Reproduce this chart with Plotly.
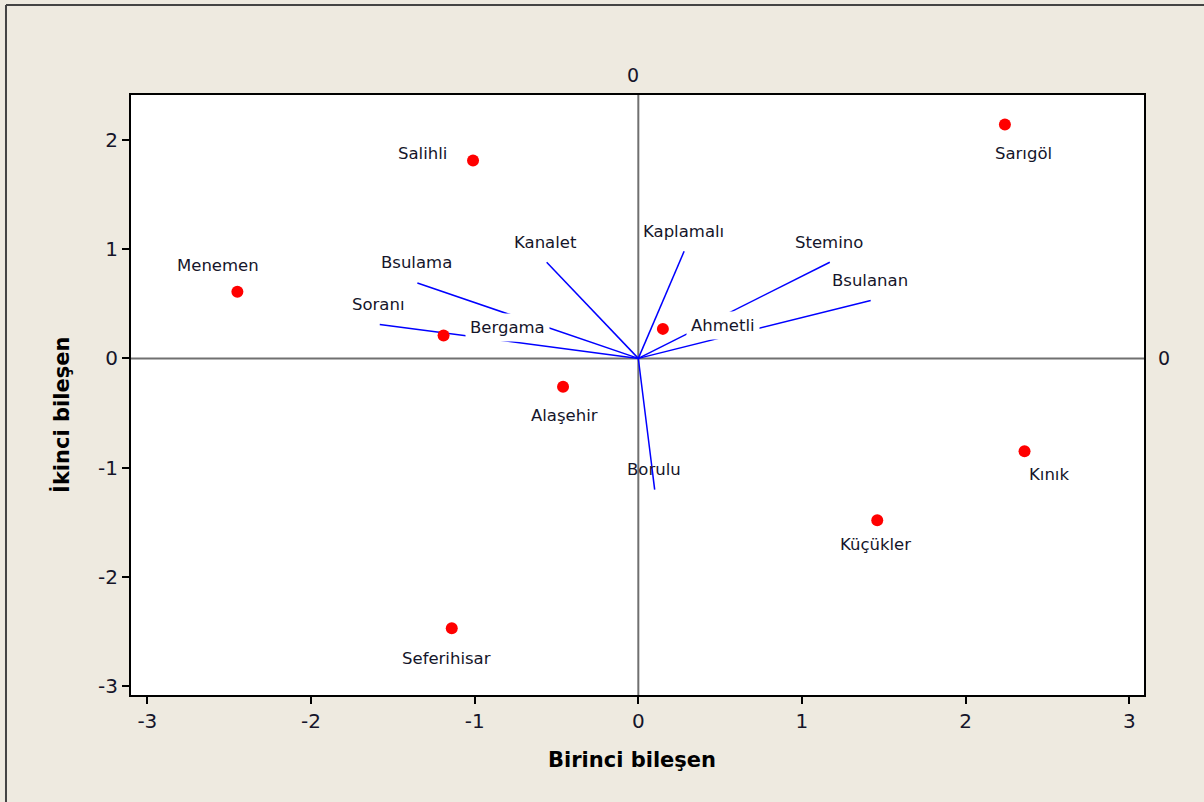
import plotly.graph_objects as go

# Observation scores (first and second principal components)
districts = ["Salihli", "Menemen", "Bergama", "Alaşehir", "Seferihisar",
             "Ahmetli", "Sarıgöl", "Kınık", "Küçükler"]
pc1_scores = [-1.01, -2.45, -1.19, -0.46, -1.14, 0.15, 2.24, 2.36, 1.46]
pc2_scores = [1.81, 0.61, 0.21, -0.26, -2.47, 0.27, 2.14, -0.85, -1.48]

# Variable loadings drawn as vectors from the origin
variables = ["Soranı", "Bsulama", "Kanalet", "Kaplamalı", "Stemino", "Bsulanan", "Borulu"]
pc1_loadings = [-1.58, -1.35, -0.56, 0.28, 1.17, 1.42, 0.10]
pc2_loadings = [0.31, 0.69, 0.88, 0.98, 0.88, 0.53, -1.20]

x_ticks = [-3, -2, -1, 0, 1, 2, 3]
y_ticks = [-3, -2, -1, 0, 1, 2]

# Label placement (pixel offsets from each point)
district_offsets = {
    "Salihli": (-51, 7), "Menemen": (-19, 26), "Bergama": (64, 8),
    "Alaşehir": (1, -29), "Seferihisar": (-5, -30), "Ahmetli": (60, 3),
    "Sarıgöl": (19, -29), "Kınık": (24, -23), "Küçükler": (-2, -24),
}

FONT = "DejaVu Sans"
BG = "#EEEAE0"
TXT = "#15152a"
LABEL_SIZE = 16.5

fig = go.Figure()

vx, vy = [], []
for lx, ly in zip(pc1_loadings, pc2_loadings):
    vx += [0, lx, None]
    vy += [0, ly, None]
fig.add_trace(go.Scatter(x=vx, y=vy, mode="lines",
                         line=dict(color="#0000FF", width=1.5),
                         hoverinfo="skip", showlegend=False))

fig.add_trace(go.Scatter(x=pc1_scores, y=pc2_scores, mode="markers",
                         marker=dict(color="#FF0000", size=12),
                         text=districts, showlegend=False))

annotations = []
for name, lx, ly in zip(variables, pc1_loadings, pc2_loadings):
    annotations.append(dict(x=lx, y=ly, text=name, showarrow=False,
                            xanchor="center", yanchor="middle", xshift=-1, yshift=20,
                            font=dict(family=FONT, size=LABEL_SIZE, color=TXT)))
for name, px, py in zip(districts, pc1_scores, pc2_scores):
    dx, dy = district_offsets[name]
    annotations.append(dict(x=px, y=py, text=name, showarrow=False,
                            xanchor="center", yanchor="middle", xshift=dx, yshift=dy,
                            bgcolor="white", borderpad=4,
                            font=dict(family=FONT, size=LABEL_SIZE, color=TXT)))

# Reference-line labels
annotations.append(dict(x=0, y=1.0, xref="x", yref="paper", text="0", showarrow=False,
                        xanchor="center", yanchor="bottom", xshift=-5, yshift=7,
                        font=dict(family=FONT, size=19, color=TXT)))
annotations.append(dict(x=1.0, y=0, xref="paper", yref="y", text="0", showarrow=False,
                        xanchor="left", yanchor="middle", xshift=12,
                        font=dict(family=FONT, size=19, color=TXT)))
# Axis titles
annotations.append(dict(x=0.4946, y=-0.108, xref="paper", yref="paper",
                        text="<b>Birinci bileşen</b>", showarrow=False,
                        xanchor="center", yanchor="middle",
                        font=dict(family=FONT, size=21, color="#000")))
annotations.append(dict(x=-0.068, y=0.467, xref="paper", yref="paper",
                        text="<b>İkinci bileşen</b>", showarrow=False, textangle=-90,
                        xanchor="center", yanchor="middle",
                        font=dict(family=FONT, size=21, color="#000")))

shapes = [
    dict(type="line", xref="x", yref="paper", x0=0, x1=0, y0=0, y1=1,
         line=dict(color="#707070", width=2), layer="below"),
    dict(type="line", xref="paper", yref="y", x0=0, x1=1, y0=0, y1=0,
         line=dict(color="#707070", width=2), layer="below"),
    # outer frame
    dict(type="line", xref="paper", yref="paper", x0=-0.1234, x1=1.1, y0=1.15, y1=1.15,
         line=dict(color="#444", width=2)),
    dict(type="line", xref="paper", yref="paper", x0=-0.1234, x1=-0.1234, y0=1.15, y1=-0.2,
         line=dict(color="#444", width=2)),
]

axis_common = dict(showgrid=False, zeroline=False, showline=True, linecolor="#000",
                   linewidth=2, mirror=True, ticks="outside", ticklen=7, tickwidth=2,
                   tickcolor="#000", tickfont=dict(family=FONT, size=20, color=TXT))

fig.update_layout(
    width=1204, height=802, autosize=False,
    margin=dict(l=131, r=60, t=95, b=107),
    paper_bgcolor=BG, plot_bgcolor="white",
    xaxis=dict(range=[-3.10, 3.09], tickvals=x_ticks,
               ticktext=[str(v) for v in x_ticks], **axis_common),
    yaxis=dict(range=[-3.08, 2.41], tickvals=y_ticks,
               ticktext=[str(v) for v in y_ticks], **axis_common),
    annotations=annotations, shapes=shapes,
)

fig.write_html("out.html")
